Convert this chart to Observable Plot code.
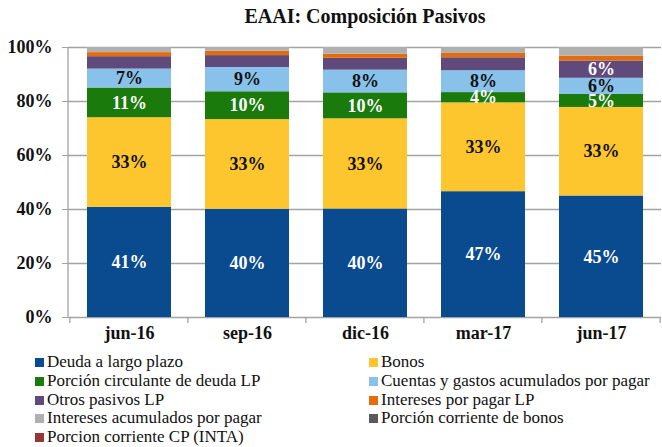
<!DOCTYPE html>
<html>
<head>
<meta charset="utf-8">
<script src="https://cdn.jsdelivr.net/npm/d3@7"></script>
<script src="https://cdn.jsdelivr.net/npm/@observablehq/plot@0.6"></script>
<style>
  html, body { margin: 0; padding: 0; background: white; }
  #wrap { position: relative; width: 662px; height: 447px; font-family: "Liberation Serif", serif; }
  #title { position: absolute; left: 68px; width: 594px; top: 5px; text-align: center; font-weight: bold; font-size: 20px; color: #111; }
  #chart { position: absolute; left: 0; top: 0; }
  .leg { position: absolute; font-size: 17px; color: #111; white-space: nowrap; line-height: 19px; }
  .sw { display: inline-block; width: 9px; height: 9px; margin-right: 3px; vertical-align: 0px; }
</style>
</head>
<body>
<div id="wrap">
  <div id="chart"></div>
  <div id="title">EAAI: Composición Pasivos</div>
  <div id="legend"></div>
</div>
<script>
const categories = ["jun-16", "sep-16", "dic-16", "mar-17", "jun-17"];
const series = [
  "Deuda a largo plazo",
  "Bonos",
  "Porción circulante de deuda LP",
  "Cuentas y gastos acumulados por pagar",
  "Otros pasivos LP",
  "Intereses por pagar LP",
  "Intereses acumulados por pagar",
  "Porción corriente de bonos",
  "Porcion corriente CP (INTA)"
];
const colors = ["#0a4a8f", "#fdc62f", "#1a7a0c", "#88c2ea", "#604a7b", "#e46c0a", "#b0b0b0", "#595959", "#953735"];
const deudaLargoPlazo   = [40.8, 40.1, 40.2, 46.6, 45.0];
const bonos             = [33.2, 33.2, 33.4, 32.9, 32.8];
const porcionCirculante = [11.0, 10.3, 9.6, 3.8, 4.8];
const cuentasPorPagar   = [7.0, 9.0, 8.4, 8.1, 6.0];
const otrosPasivosLP    = [4.6, 4.4, 4.4, 4.8, 6.4];
const interesesLP       = [1.5, 1.6, 1.5, 1.6, 1.8];
const interesesAcum     = [1.9, 1.4, 2.5, 2.2, 3.2];
const porcionBonos      = [0, 0, 0, 0, 0];
const porcionINTA       = [0, 0, 0, 0, 0];
const yTicks = [0, 20, 40, 60, 80, 100];

const seriesValues = [deudaLargoPlazo, bonos, porcionCirculante, cuentasPorPagar, otrosPasivosLP, interesesLP, interesesAcum, porcionBonos, porcionINTA];
const whiteLabelSeries = [0, 2, 4];

const data = [];
seriesValues.forEach((vals, i) => vals.forEach((v, j) => {
  const shown = i < 4 || v >= 6;
  data.push({cat: categories[j], series: series[i], idx: i, value: v, label: shown ? Math.round(v) + "%" : ""});
}));

const font = "Liberation Serif";

const plot = Plot.plot({
  width: 662,
  height: 345,
  marginTop: 47,
  marginBottom: 28,
  marginLeft: 68,
  marginRight: 1,
  style: {fontFamily: font, background: "white", color: "#111"},
  x: {domain: categories, paddingInner: 0.29, paddingOuter: 0.145, axis: null},
  y: {domain: [0, 100], axis: null},
  color: {domain: series, range: colors},
  marks: [
    Plot.ruleY(yTicks, {stroke: "#a3a3a3", strokeWidth: 1.3}),
    Plot.barY(data, {x: "cat", y: "value", z: "series", fill: "series"}),
    Plot.text(data, Plot.stackY({x: "cat", y: "value", z: "series",
      text: d => whiteLabelSeries.includes(d.idx) ? d.label : "",
      fill: "white", fontSize: 18, fontWeight: "bold", fontFamily: font})),
    Plot.text(data, Plot.stackY({x: "cat", y: "value", z: "series",
      text: d => whiteLabelSeries.includes(d.idx) ? "" : d.label,
      fill: "#111", fontSize: 18, fontWeight: "bold", fontFamily: font})),
    Plot.axisY({ticks: yTicks, tickFormat: d => d + "%", tickSize: 6, tickPadding: 10,
      stroke: "#a3a3a3", fill: "#111", fontSize: 18, fontWeight: "bold", fontFamily: font, label: null}),
    Plot.axisX({tickSize: 0, tickPadding: 9, fill: "#111", fontSize: 18, fontWeight: "bold", fontFamily: font, label: null})
  ]
});
document.getElementById("chart").appendChild(plot);

// y axis line and band boundary ticks, placed via the plot's own scales
const sx = plot.scale("x"), sy = plot.scale("y");
const svg = d3.select(plot);
const x0 = sx.range[0];
svg.append("line")
  .attr("x1", x0).attr("x2", x0)
  .attr("y1", sy.apply(0)).attr("y2", sy.apply(100))
  .attr("stroke", "#a3a3a3").attr("stroke-width", 1.3);
const half = sx.step * sx.paddingInner / 2;
const bounds = categories.map(c => sx.apply(c) - half).concat([sx.apply(categories[categories.length - 1]) + sx.bandwidth + half]);
svg.append("g").selectAll("line").data(bounds).join("line")
  .attr("x1", d => d).attr("x2", d => d)
  .attr("y1", sy.apply(0)).attr("y2", sy.apply(0) + 6)
  .attr("stroke", "#a3a3a3").attr("stroke-width", 1.3);

// legend
const legend = d3.select("#legend");
series.forEach((s, i) => {
  const col = i % 2, row = Math.floor(i / 2);
  const item = legend.append("div").attr("class", "leg")
    .style("left", (col === 0 ? 35 : 369) + "px")
    .style("top", (352 + row * 18.8) + "px");
  item.append("span").attr("class", "sw").style("background", colors[i]);
  item.append("span").text(s);
});
</script>
</body>
</html>
